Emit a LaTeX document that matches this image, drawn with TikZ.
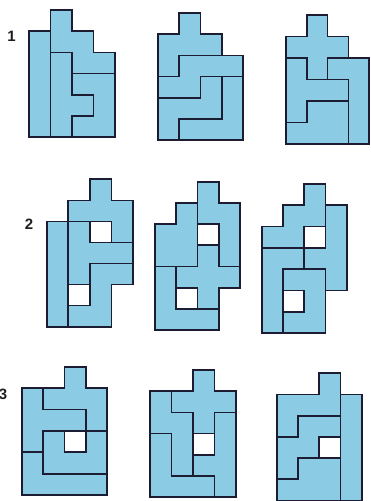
\documentclass[tikz,border=0pt]{standalone}
\usepackage{fontspec}
\newfontfamily\numfont{Liberation Sans}
\definecolor{pblue}{RGB}{140,203,228}
\definecolor{pline}{RGB}{28,28,50}
\definecolor{numcol}{RGB}{30,30,30}
\begin{document}
\begin{tikzpicture}[x=1pt,y=-1pt,
  piece/.style={fill=pblue, draw=pline, line width=1.7pt, line join=miter},
  numlabel/.style={font=\numfont\bfseries\fontsize{15}{15}\selectfont, text=numcol, inner sep=0pt}]
\useasboundingbox (0,0) rectangle (370,501);
\fill[white] (0,0) rectangle (370,501);

% ---------- row 1 ----------
\node[numlabel] (n1) at (11.5,36) {1};
% 1-1
\begin{scope}[xshift=29pt, yshift=-10pt, x=21.5pt, y=-21.2pt]
  \filldraw[piece] (0,1)--(1,1)--(1,6)--(0,6)--cycle;
  \filldraw[piece] (1,0)--(2,0)--(2,1)--(3,1)--(3,2)--(4,2)--(4,3)--(2,3)--(2,2)--(1,2)--cycle;
  \filldraw[piece] (1,2)--(2,2)--(2,4)--(3,4)--(3,5)--(2,5)--(2,6)--(1,6)--cycle;
  \filldraw[piece] (2,3)--(4,3)--(4,6)--(2,6)--(2,5)--(3,5)--(3,4)--(2,4)--cycle;
\end{scope}
% 1-2
\begin{scope}[xshift=158pt, yshift=-13pt, x=21.25pt, y=-21.2pt]
  \filldraw[piece] (1,0)--(2,0)--(2,1)--(3,1)--(3,2)--(1,2)--(1,3)--(0,3)--(0,1)--(1,1)--cycle;
  \filldraw[piece] (1,2)--(4,2)--(4,3)--(2,3)--(2,4)--(0,4)--(0,3)--(1,3)--cycle;
  \filldraw[piece] (2,3)--(3,3)--(3,5)--(1,5)--(1,6)--(0,6)--(0,4)--(2,4)--cycle;
  \filldraw[piece] (3,3)--(4,3)--(4,6)--(1,6)--(1,5)--(3,5)--cycle;
\end{scope}
% 1-3
\begin{scope}[xshift=286pt, yshift=-15pt, x=20.8pt, y=-21.5pt]
  \filldraw[piece] (1,0)--(2,0)--(2,1)--(3,1)--(3,2)--(2,2)--(2,3)--(1,3)--(1,2)--(0,2)--(0,1)--(1,1)--cycle;
  \filldraw[piece] (2,2)--(4,2)--(4,6)--(3,6)--(3,3)--(2,3)--cycle;
  \filldraw[piece] (0,2)--(1,2)--(1,3)--(3,3)--(3,4)--(1,4)--(1,5)--(0,5)--cycle;
  \filldraw[piece] (1,4)--(3,4)--(3,6)--(0,6)--(0,5)--(1,5)--cycle;
\end{scope}

% ---------- row 2 ----------
\node[numlabel] (n2) at (29,224) {2};
% 2-1
\begin{scope}[xshift=46.7pt, yshift=-179.3pt, x=21.6pt, y=-21.05pt]
  \filldraw[piece] (2,0)--(3,0)--(3,1)--(4,1)--(4,3)--(3,3)--(3,2)--(1,2)--(1,1)--(2,1)--cycle;
  \filldraw[piece] (0,2)--(1,2)--(1,7)--(0,7)--cycle;
  \filldraw[piece] (1,2)--(2,2)--(2,3)--(4,3)--(4,4)--(2,4)--(2,5)--(1,5)--cycle;
  \filldraw[piece] (2,4)--(4,4)--(4,5)--(3,5)--(3,7)--(1,7)--(1,6)--(2,6)--cycle;
\end{scope}
% 2-2
\begin{scope}[xshift=155pt, yshift=-181.7pt, x=21.25pt, y=-21.2pt]
  \filldraw[piece] (2,0)--(3,0)--(3,1)--(4,1)--(4,4)--(3,4)--(3,2)--(2,2)--cycle;
  \filldraw[piece] (1,1)--(2,1)--(2,4)--(0,4)--(0,2)--(1,2)--cycle;
  \filldraw[piece] (2,3)--(3,3)--(3,4)--(4,4)--(4,5)--(3,5)--(3,6)--(2,6)--(2,5)--(1,5)--(1,4)--(2,4)--cycle;
  \filldraw[piece] (0,4)--(1,4)--(1,6)--(3,6)--(3,7)--(0,7)--cycle;
\end{scope}
% 2-3
\begin{scope}[xshift=261.7pt, yshift=-184pt, x=21.25pt, y=-21.3pt]
  \filldraw[piece] (2,0)--(3,0)--(3,2)--(2,2)--(2,3)--(0,3)--(0,2)--(1,2)--(1,1)--(2,1)--cycle;
  \filldraw[piece] (3,1)--(4,1)--(4,5)--(3,5)--(3,4)--(2,4)--(2,3)--(3,3)--cycle;
  \filldraw[piece] (0,3)--(2,3)--(2,4)--(1,4)--(1,7)--(0,7)--cycle;
  \filldraw[piece] (1,4)--(3,4)--(3,7)--(1,7)--(1,6)--(2,6)--(2,5)--(1,5)--cycle;
\end{scope}

% ---------- row 3 ----------
\node[numlabel] (n3) at (3,394) {3};
% 3-1
\begin{scope}[xshift=21.7pt, yshift=-366.7pt, x=21.4pt, y=-21.4pt]
  \filldraw[piece] (2,0)--(3,0)--(3,1)--(4,1)--(4,3)--(3,3)--(3,2)--(1,2)--(1,1)--(2,1)--cycle;
  \filldraw[piece] (0,1)--(1,1)--(1,2)--(3,2)--(3,3)--(1,3)--(1,4)--(0,4)--cycle;
  \filldraw[piece] (1,3)--(2,3)--(2,4)--(3,4)--(3,3)--(4,3)--(4,5)--(1,5)--cycle;
  \filldraw[piece] (0,4)--(1,4)--(1,5)--(4,5)--(4,6)--(0,6)--cycle;
\end{scope}
% 3-2
\begin{scope}[xshift=150pt, yshift=-370pt, x=21.5pt, y=-21.2pt]
  \filldraw[piece] (2,0)--(3,0)--(3,1)--(4,1)--(4,2)--(3,2)--(3,3)--(2,3)--(2,2)--(1,2)--(1,1)--(2,1)--cycle;
  \filldraw[piece] (0,1)--(1,1)--(1,2)--(2,2)--(2,5)--(1,5)--(1,3)--(0,3)--cycle;
  \filldraw[piece] (0,3)--(1,3)--(1,5)--(3,5)--(3,6)--(0,6)--cycle;
  \filldraw[piece] (3,2)--(4,2)--(4,6)--(3,6)--(3,5)--(2,5)--(2,4)--(3,4)--cycle;
\end{scope}
% 3-3
\begin{scope}[xshift=276.7pt, yshift=-373.3pt, x=21.25pt, y=-21.2pt]
  \filldraw[piece] (3,1)--(4,1)--(4,6)--(3,6)--cycle;
  \filldraw[piece] (2,0)--(3,0)--(3,2)--(1,2)--(1,3)--(0,3)--(0,1)--(2,1)--cycle;
  \filldraw[piece] (1,2)--(3,2)--(3,3)--(2,3)--(2,4)--(1,4)--(1,5)--(0,5)--(0,3)--(1,3)--cycle;
  \filldraw[piece] (1,4)--(3,4)--(3,6)--(0,6)--(0,5)--(1,5)--cycle;
\end{scope}
\end{tikzpicture}
\end{document}
